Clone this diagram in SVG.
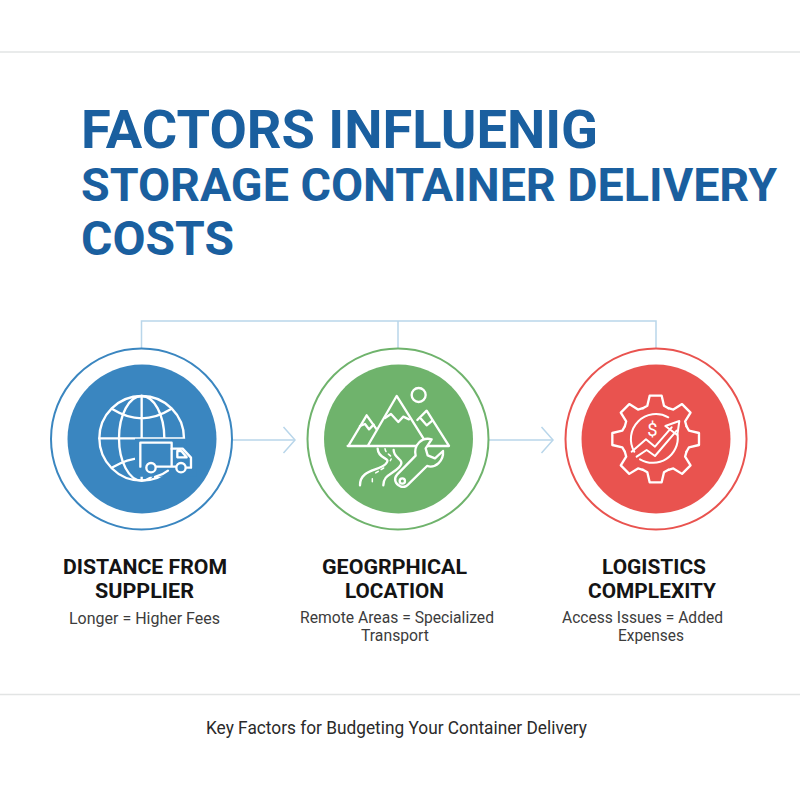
<svg xmlns="http://www.w3.org/2000/svg" xmlns:xlink="http://www.w3.org/1999/xlink" width="800" height="800" viewBox="0 0 800 800">
<style>
.rule{stroke:#e2e4e4;stroke-width:1.6;fill:none}
.title{font-family:"Roboto","Liberation Sans",sans-serif;font-weight:700;fill:#1a5f9f}
.head{font-family:"Roboto","Liberation Sans",sans-serif;font-weight:700;font-size:20.500px;fill:#141414}
.sub{font-family:"Roboto","Liberation Sans",sans-serif;font-weight:400;font-size:16.500px;fill:#3c3c3c}
.foot{font-family:"Roboto","Liberation Sans",sans-serif;font-weight:400;font-size:18px;fill:#2a2a2a}
.conn{stroke:#b9d6ea;stroke-width:1.5;fill:none}
.ring{fill:#fff;stroke-width:2}
.ico{fill:none;stroke:#fff;stroke-width:7;stroke-linecap:round;stroke-linejoin:round}
</style>
<defs>
<path id="tooth" d="M-38.3 -92.4L-25 -100L-18 -130H18L25 -100L38.3 -92.4"/>
<marker id="chev" markerUnits="userSpaceOnUse" markerWidth="16" markerHeight="30" refX="13" refY="15" orient="auto">
<path d="M1.500 2L13 15L1.500 28" fill="none" stroke="#b9d6ea" stroke-width="1.500"/>
</marker>
</defs>
<rect width="800" height="800" fill="#fff"/>
<line class="rule" x1="0" y1="52" x2="800" y2="52"/>
<line class="rule" x1="0" y1="694.500" x2="800" y2="694.500"/>
<g id="title">
<text class="title" x="81" y="148" font-size="53.500" textLength="517" lengthAdjust="spacingAndGlyphs">FACTORS INFLUENIG</text>
<text class="title" x="81" y="201" font-size="46.500" textLength="696" lengthAdjust="spacingAndGlyphs">STORAGE CONTAINER DELIVERY</text>
<text class="title" x="81" y="255" font-size="48" textLength="153" lengthAdjust="spacingAndGlyphs">COSTS</text>
</g>
<g id="connectors">
<path class="conn" d="M141.500 349V321H656V349M398 321V349"/>
<path class="conn" d="M233 440H295" marker-end="url(#chev)"/>
<path class="conn" d="M489 440H553" marker-end="url(#chev)"/>
</g>
<g id="node-distance">
<circle class="ring" cx="141.500" cy="439" r="90.500" stroke="#3a86c0"/>
<circle cx="142" cy="439" r="74.500" fill="#3a86c0"/>
<g class="ico" transform="translate(40 340) scale(.3333)">
<circle cx="305" cy="295" r="127"/>
<ellipse cx="305" cy="295" rx="68" ry="127"/>
<path d="M305 168V422M178 295H432M218 208Q305 262 392 208M218 382Q305 328 392 382"/>
<path d="M285 296H440V340L470 360V410H285Z" fill="#3a86c0" stroke="none"/>
<path d="M345 411Q368 405 384 392"/>
<path d="M301 380V308H395V380M347 380H408"/>
<path d="M395 326H428L453 353V383H438M412 333H424L440 352H412Z"/>
<circle cx="333" cy="383" r="14" fill="#3a86c0"/>
<circle cx="423" cy="383" r="14" fill="#3a86c0"/>
</g>
<text class="head" x="63" y="574" textLength="164" lengthAdjust="spacingAndGlyphs">DISTANCE FROM</text>
<text class="head" x="95" y="598" textLength="99" lengthAdjust="spacingAndGlyphs">SUPPLIER</text>
<text class="sub" x="69" y="624" textLength="151" lengthAdjust="spacingAndGlyphs">Longer = Higher Fees</text>
</g>
<g id="node-geographical">
<circle class="ring" cx="398" cy="439" r="90.500" stroke="#6fb36c"/>
<circle cx="398.500" cy="439" r="74.500" fill="#6fb36c"/>
<g class="ico" transform="translate(295 340) scale(.3333)">
<circle cx="371" cy="165" r="21"/>
<path d="M158 318H462L395 212L367 240M218 318L305 168L388 300M160 318L215 226L245 268"/>
<path d="M270 234L288 222L310 246L325 230L342 238M195 258L210 252L222 268L236 254M378 236L395 256L412 242"/>
<path d="M248 326C250 362 292 350 272 372C250 394 195 388 195 436"/>
<path d="M296 330C296 358 335 358 312 382C290 405 265 405 265 436"/>
<path d="M270 326C272 345 298 345 286 362M266 384L240 400M232 416V432" stroke-width="4.500" stroke-dasharray="9 10"/>
<path d="M410 298C380 290 355 315 362 347L307 403C294 418 302 432 316 439C326 443 336 438 342 431L396 378C422 386 447 362 444 333L420 355L398 346L392 325Z" fill="#6fb36c"/>
<circle cx="322" cy="423" r="8"/>
</g>
<text class="head" x="322" y="574" textLength="145" lengthAdjust="spacingAndGlyphs">GEOGRPHICAL</text>
<text class="head" x="345" y="598" textLength="99" lengthAdjust="spacingAndGlyphs">LOCATION</text>
<text class="sub" x="300" y="623" textLength="194" lengthAdjust="spacingAndGlyphs">Remote Areas = Specialized</text>
<text class="sub" x="361" y="641" textLength="68" lengthAdjust="spacingAndGlyphs">Transport</text>
</g>
<g id="node-logistics">
<circle class="ring" cx="656" cy="439" r="90.500" stroke="#e9534f"/>
<circle cx="656" cy="439" r="74.500" fill="#e9534f"/>
<g class="ico" transform="translate(540 340) scale(.3333)">
<g transform="translate(347 297)">
<use xlink:href="#tooth"/>
<use xlink:href="#tooth" transform="rotate(45)"/>
<use xlink:href="#tooth" transform="rotate(90)"/>
<use xlink:href="#tooth" transform="rotate(135)"/>
<use xlink:href="#tooth" transform="rotate(180)"/>
<use xlink:href="#tooth" transform="rotate(225)"/>
<use xlink:href="#tooth" transform="rotate(270)"/>
<use xlink:href="#tooth" transform="rotate(315)"/>
</g>
<path d="M283 335A75 75 0 0 1 385 232M413 285A75 75 0 0 1 300 358" stroke-width="6"/>
<path d="M275 335L318 298L345 320L395 262M290 350L320 330L345 348L410 272" stroke-width="6"/>
<path d="M376 258L418 243L412 285Z" stroke-width="6"/>
<text x="337" y="289" font-family="Roboto,'Liberation Sans',sans-serif" font-size="55" text-anchor="middle" fill="#fff" stroke="none">$</text>
</g>
<text class="head" x="602" y="574" textLength="104" lengthAdjust="spacingAndGlyphs">LOGISTICS</text>
<text class="head" x="588" y="598" textLength="128" lengthAdjust="spacingAndGlyphs">COMPLEXITY</text>
<text class="sub" x="562" y="623" textLength="161" lengthAdjust="spacingAndGlyphs">Access Issues = Added</text>
<text class="sub" x="618" y="641" textLength="66" lengthAdjust="spacingAndGlyphs">Expenses</text>
</g>
<text class="foot" x="206" y="734" textLength="381" lengthAdjust="spacingAndGlyphs">Key Factors for Budgeting Your Container Delivery</text>
</svg>
